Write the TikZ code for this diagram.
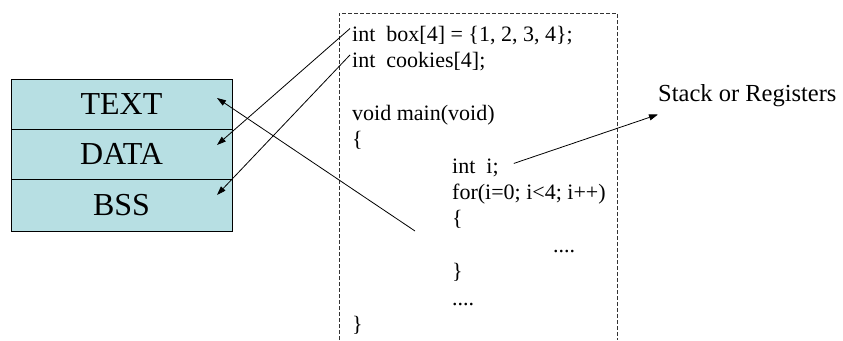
\documentclass[tikz,border=0pt]{standalone}
\usepackage{fontspec}
\setmainfont{Liberation Serif}
\usetikzlibrary{positioning,arrows.meta}
\definecolor{segcyan}{RGB}{183,223,227}

\begin{document}
\begin{tikzpicture}[
        x=1bp, y=-1bp,
        seg/.style={draw,fill=segcyan,rectangle,minimum height=50bp,minimum width=221bp,inner sep=0pt,outer sep=0pt,font=\fontsize{32bp}{36bp}\selectfont},
        code/.style={anchor=base west,inner sep=0pt,font=\fontsize{22bp}{26bp}\selectfont},
        lbl/.style={anchor=base west,inner sep=0pt,font=\fontsize{24.5bp}{28bp}\selectfont},
        frame/.style={dash pattern=on 4bp off 2bp,line width=0.8bp,black!80},
        a/.style={-{Triangle[length=9bp,width=6bp]},line width=0.8bp},
    ]

    \tikzset{
        node distance=0pt,
    }

    \useasboundingbox (0,0) rectangle (843,340);

    % memory segments
    \node[seg] (segtext) at (121.5,104) {TEXT};
    \node[seg,below=of segtext] (segdata) {DATA};
    \node[seg,below=of segdata,minimum height=52bp] (segbss) {BSS};

    % program listing
    \draw[frame] (339,340) |- (617,13) -- (617,340);
    \node[code] (box) at (352,41) {int\ \ box[4] = \{1, 2, 3, 4\};};
    \node[code] (cookies) at (352,67.4) {int\ \ cookies[4];};
    \node[code] (mainhead) at (352,120.2) {void main(void)};
    \node[code] (mainopen) at (352,146.6) {\{};
    \node[code] (inti) at (452,173) {int\ \ i;};
    \node[code] (forhead) at (452,199.4) {for(i=0; i<4; i++)};
    \node[code] (foropen) at (452,225.8) {\{};
    \node[code] (forbody) at (553,252.2) {....};
    \node[code] (forclose) at (452,278.6) {\}};
    \node[code] (mainbody) at (452,305) {....};
    \node[code] (mainclose) at (352,331.4) {\}};

    \node[lbl] (stack) at (658,101) {Stack or Registers};
    \coordinate (callsite) at (415,231);

    \draw[a] ([xshift=-2bp,yshift=-3bp]box.north west) -- ([xshift=-15bp,yshift=9bp]segdata.east);
    \draw[a] ([xshift=-2bp,yshift=-3bp]cookies.north west) -- ([xshift=-15bp,yshift=10bp]segbss.east);
    \draw[a] (callsite) -- ([xshift=-15bp,yshift=6bp]segtext.east);
    \draw[a] ([xshift=15bp,yshift=4bp]inti.east) -- ([yshift=-8bp]stack.south west);

\end{tikzpicture}
\end{document}
